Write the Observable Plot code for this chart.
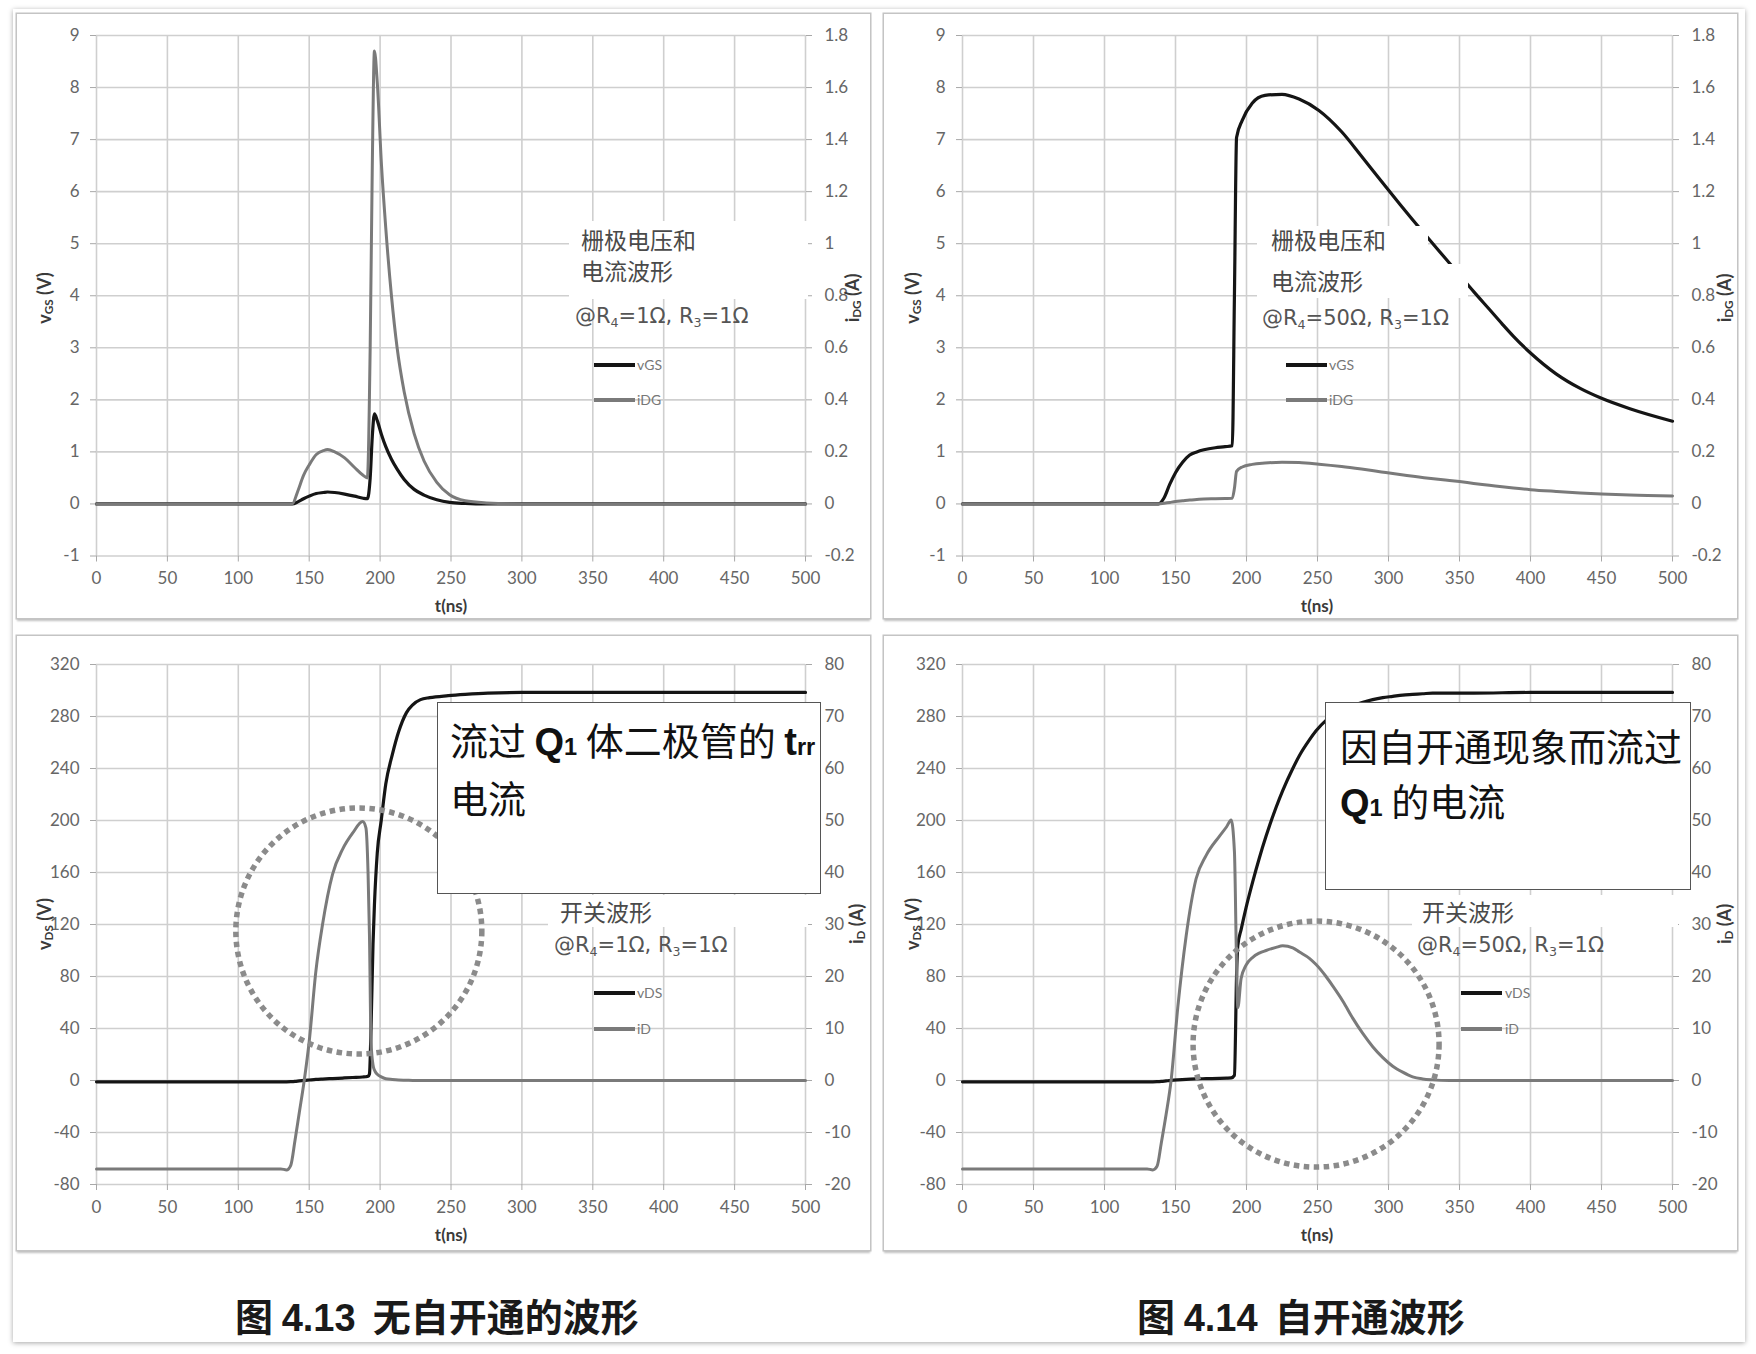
<!DOCTYPE html>
<html><head><meta charset="utf-8">
<script src="https://cdn.jsdelivr.net/npm/d3@7"></script>
<script src="https://cdn.jsdelivr.net/npm/@observablehq/plot@0.6"></script>
<style>
body{margin:0;background:#fff;}
#root{position:relative;width:1756px;height:1354px;overflow:hidden;background:#fff;font-family:Lato,"Noto Sans CJK SC",sans-serif;}
.card{position:absolute;left:13px;top:9px;width:1732px;height:1333px;background:#fff;box-shadow:0 1px 5px rgba(0,0,0,.35);}
.panel{position:absolute;background:#fff;box-shadow:0 0 0 1.5px #c4c4c4,0 3px 2px rgba(0,0,0,.25);}
.panel svg{position:absolute;left:0;top:0;}
.a{position:absolute;white-space:nowrap;line-height:1;}
.ytitle{font-family:Lato,sans-serif;font-weight:bold;font-size:18px;color:#3a3a3a;transform:translate(-50%,-50%) rotate(-90deg);}
.xtitle{font-family:Lato,sans-serif;font-weight:bold;font-size:17px;color:#3a3a3a;transform:translate(-50%,-50%);}
.ytitle sub,.xtitle sub{font-size:.65em;vertical-align:-.2em;}
.cjk{font-family:"Noto Sans CJK SC",sans-serif;font-size:23px;color:#4a4a4a;transform:translateY(-50%);}
.cond{font-family:"DejaVu Sans",sans-serif;font-size:21px;color:#555;transform:translateY(-50%);}
.cond sub{font-size:.6em;vertical-align:-.3em;}
.white{position:absolute;background:#fff;}
.lg{position:absolute;height:4px;}
.lgt{font-family:Lato,sans-serif;font-size:14px;color:#777;transform:translateY(-50%);}
.box{position:absolute;background:#fff;border:1.5px solid #555;box-sizing:border-box;}
.big{font-family:"Noto Sans CJK SC",sans-serif;color:#111;transform:translateY(-50%);}
.big b{font-family:"Liberation Sans",Arial,sans-serif;font-weight:bold;}
.big b small{font-size:.62em;}
.cap{font-family:"Noto Sans CJK SC",sans-serif;font-weight:bold;font-size:38px;color:#1a1a1a;transform:translateY(-50%);}
.cap b{font-family:"Liberation Sans",Arial,sans-serif;}
</style></head>
<body>
<div id="root">
  <div class="card"></div>
  <div class="panel" id="p1" style="left:17px;top:14px;width:853px;height:604px"></div>
  <div class="panel" id="p2" style="left:884px;top:14px;width:853px;height:604px"></div>
  <div class="panel" id="p3" style="left:17px;top:636px;width:853px;height:614px"></div>
  <div class="panel" id="p4" style="left:884px;top:636px;width:853px;height:614px"></div>

  <!-- axis titles -->
  <div class="a ytitle" style="left:45px;top:298px">v<sub>GS</sub> (V)</div>
  <div class="a ytitle" style="left:853px;top:298px">i<sub>DG</sub> (A)</div>
  <div class="a ytitle" style="left:913px;top:298px">v<sub>GS</sub> (V)</div>
  <div class="a ytitle" style="left:1725px;top:298px">i<sub>DG</sub> (A)</div>
  <div class="a ytitle" style="left:45px;top:924px">v<sub>DS</sub> (V)</div>
  <div class="a ytitle" style="left:857px;top:924px">i<sub>D</sub> (A)</div>
  <div class="a ytitle" style="left:913px;top:924px">v<sub>DS</sub> (V)</div>
  <div class="a ytitle" style="left:1725px;top:924px">i<sub>D</sub> (A)</div>
  <div class="a xtitle" style="left:451px;top:605px">t(ns)</div>
  <div class="a xtitle" style="left:1317px;top:605px">t(ns)</div>
  <div class="a xtitle" style="left:451px;top:1234px">t(ns)</div>
  <div class="a xtitle" style="left:1317px;top:1234px">t(ns)</div>

  <!-- top-left annotations -->
  <div class="white" style="left:569px;top:221px;width:239px;height:78px"></div>
  <div class="a cjk" style="left:581px;top:239px">栅极电压和</div>
  <div class="a cjk" style="left:581px;top:270px">电流波形</div>
  <div class="a cond" style="left:575px;top:318px">@R<sub>4</sub>=1Ω, R<sub>3</sub>=1Ω</div>
  <div class="lg" style="left:594px;top:363px;width:41px;background:#151515"></div>
  <div class="a lgt" style="left:637px;top:365px">vGS</div>
  <div class="lg" style="left:594px;top:398px;width:41px;background:#7a7a7a"></div>
  <div class="a lgt" style="left:637px;top:400px">iDG</div>

  <!-- top-right annotations -->
  <div class="white" style="left:1257px;top:226px;width:171px;height:38px"></div>
  <div class="white" style="left:1257px;top:264px;width:211px;height:34px"></div>
  <div class="a cjk" style="left:1271px;top:239px">栅极电压和</div>
  <div class="a cjk" style="left:1271px;top:280px">电流波形</div>
  <div class="a cond" style="left:1262px;top:320px">@R<sub>4</sub>=50Ω, R<sub>3</sub>=1Ω</div>
  <div class="lg" style="left:1286px;top:363px;width:41px;background:#151515"></div>
  <div class="a lgt" style="left:1329px;top:365px">vGS</div>
  <div class="lg" style="left:1286px;top:398px;width:41px;background:#7a7a7a"></div>
  <div class="a lgt" style="left:1329px;top:400px">iDG</div>

  <!-- bottom-left annotations -->
  <div class="box" style="left:437px;top:702px;width:384px;height:192px"></div>
  <div class="a big" style="left:450px;top:740px;font-size:38px">流过 <b>Q<small>1</small></b> 体二极管的 <b>t<small>rr</small></b></div>
  <div class="a big" style="left:450px;top:797px;font-size:38px">电流</div>
  <div class="white" style="left:548px;top:895px;width:260px;height:32px"></div>
  <div class="a cjk" style="left:560px;top:911px">开关波形</div>
  <div class="a cond" style="left:554px;top:947px">@R<sub>4</sub>=1Ω, R<sub>3</sub>=1Ω</div>
  <div class="lg" style="left:594px;top:991px;width:41px;background:#151515"></div>
  <div class="a lgt" style="left:637px;top:993px">vDS</div>
  <div class="lg" style="left:594px;top:1027px;width:41px;background:#7a7a7a"></div>
  <div class="a lgt" style="left:637px;top:1029px">iD</div>

  <!-- bottom-right annotations -->
  <div class="box" style="left:1325px;top:702px;width:366px;height:188px"></div>
  <div class="a big" style="left:1340px;top:745px;font-size:38px">因自开通现象而流过</div>
  <div class="a big" style="left:1340px;top:801px;font-size:38px"><b>Q<small>1</small></b> 的电流</div>
  <div class="white" style="left:1412px;top:895px;width:266px;height:32px"></div>
  <div class="a cjk" style="left:1422px;top:911px">开关波形</div>
  <div class="a cond" style="left:1417px;top:947px">@R<sub>4</sub>=50Ω, R<sub>3</sub>=1Ω</div>
  <div class="lg" style="left:1461px;top:991px;width:41px;background:#151515"></div>
  <div class="a lgt" style="left:1505px;top:993px">vDS</div>
  <div class="lg" style="left:1461px;top:1027px;width:41px;background:#7a7a7a"></div>
  <div class="a lgt" style="left:1505px;top:1029px">iD</div>

  <!-- captions -->
  <div class="a cap" style="left:235px;top:1316px">图 <b>4.13</b>&nbsp; 无自开通的波形</div>
  <div class="a cap" style="left:1137px;top:1316px">图 <b>4.14</b>&nbsp; 自开通波形</div>
</div>
<script>
// ---- tick values ----
const xTicks = [0, 50, 100, 150, 200, 250, 300, 350, 400, 450, 500];
const gateTicks = [-1, 0, 1, 2, 3, 4, 5, 6, 7, 8, 9];
const swTicks = [-80, -40, 0, 40, 80, 120, 160, 200, 240, 280, 320];

// ---- Fig 4.13 gate waveforms (R4=1Ω) ----
const tGate413 = [0, 138, 142, 146, 150, 155, 160, 163, 168, 175, 182, 188, 191, 193, 194.5, 196, 198, 201, 204, 208, 212, 217, 224, 231, 240, 249, 260, 275, 300, 500];
const vGS413  = [0, 0, 0.04, 0.1, 0.15, 0.2, 0.22, 0.23, 0.22, 0.19, 0.15, 0.11, 0.1, 0.5, 1.3, 1.73, 1.6, 1.33, 1.1, 0.86, 0.67, 0.47, 0.28, 0.17, 0.08, 0.03, 0.01, 0, 0, 0];
const iDG413  = [0, 0, 0.05, 0.11, 0.15, 0.19, 0.205, 0.209, 0.2, 0.177, 0.14, 0.11, 0.1, 0.6, 1.3, 1.74, 1.62, 1.3, 1.06, 0.8, 0.6, 0.43, 0.27, 0.165, 0.083, 0.035, 0.012, 0.004, 0, 0];

// ---- Fig 4.14 gate waveforms (R4=50Ω) ----
const tGate414 = [0, 138, 142, 146, 150, 155, 160, 165, 170, 178, 185, 190, 191.5, 193, 197, 204, 213, 225, 237, 251, 267, 281, 295, 308, 325, 340, 350, 360, 371, 380, 388, 400, 418, 435, 450, 470, 500];
const vGS414  = [0, 0, 0.12, 0.38, 0.6, 0.8, 0.94, 1.0, 1.04, 1.08, 1.1, 1.12, 4.0, 7.04, 7.37, 7.7, 7.85, 7.87, 7.78, 7.56, 7.15, 6.68, 6.2, 5.76, 5.2, 4.72, 4.4, 4.08, 3.74, 3.46, 3.22, 2.9, 2.5, 2.22, 2.03, 1.83, 1.59];
const iDG414  = [0, 0, 0.003, 0.006, 0.009, 0.012, 0.015, 0.017, 0.019, 0.02, 0.021, 0.022, 0.06, 0.125, 0.142, 0.152, 0.157, 0.16, 0.159, 0.153, 0.144, 0.134, 0.123, 0.113, 0.101, 0.092, 0.086, 0.079, 0.072, 0.066, 0.061, 0.055, 0.048, 0.042, 0.038, 0.034, 0.031];

// ---- Fig 4.13 switching waveforms ----
const tSw413 = [0, 130, 134, 137, 140, 143, 146.5, 150, 154.7, 159.4, 166.5, 173.6, 180.7, 187.7, 190, 191.5, 192.5, 193.6, 195, 196, 198, 200.8, 204, 208.7, 213, 218.6, 223, 228.5, 235, 248, 260, 276, 300, 500];
const vDS413 = [-1, -1, -1, -0.9, -0.7, -0.3, 0.1, 0.4, 0.8, 1.1, 1.5, 1.9, 2.3, 2.7, 2.9, 3.2, 5, 40, 105, 135, 175, 200, 228, 251, 268, 283, 289, 293, 294.5, 296, 297, 298, 298.5, 298.5];
const iD413  = [-17, -17, -17.2, -16.3, -11.5, -6.2, 0, 7.5, 21, 30, 39.7, 44.5, 47.6, 49.8, 48.6, 40, 28, 7.5, 3, 2, 1.2, 0.7, 0.35, 0.2, 0.1, 0.05, 0, 0, 0, 0, 0, 0, 0, 0];

// ---- Fig 4.14 switching waveforms ----
const tSw414 = [0, 130, 134, 137, 140, 143.4, 146.9, 151.6, 157.5, 164.5, 171.6, 181, 186, 189.2, 191.5, 193.1, 193.9, 196.2, 199.7, 204.4, 209, 213.8, 220.8, 225.5, 232.6, 237.3, 244.3, 249, 256, 260.7, 268, 274.8, 282, 288.9, 296, 303, 310, 317, 324, 331, 343, 360, 400, 500];
const vDS414 = [-1, -1, -1, -0.9, -0.7, -0.3, 0.1, 0.5, 0.9, 1.2, 1.4, 1.6, 1.8, 2, 4, 85, 104, 116, 133, 153, 171, 188, 210, 223, 240, 250, 262, 269, 277, 281, 285.5, 288.5, 291, 293, 294.5, 295.5, 296.5, 297, 297.5, 298, 298, 298, 298.5, 298.5];
const iD414  = [-17, -17, -17.2, -16.5, -12, -6.5, 0, 14, 27.8, 38.8, 43.3, 47, 48.8, 50.1, 44, 21, 14, 19.6, 22.2, 23.7, 24.5, 25, 25.6, 25.9, 25.5, 24.7, 23.5, 22.3, 20, 18.2, 15.2, 12, 9, 6.5, 4.4, 2.75, 1.6, 0.7, 0.3, 0.12, 0, 0, 0, 0];

// ---- dotted highlight circles (center in data units) ----
const trrCircleT = [185], trrCircleV = [115];
const selfOnCircleT = [249], selfOnCircleV = [28];

function chart({t, a, b, ratio, yDomain, yTicks, rightFmt, circleT, circleV, height, mt, mb, ml}) {
  const rows = t.map((tt, i) => ({t: tt, a: a[i], b: b[i]}));
  const marks = [
    Plot.gridX(xTicks, {stroke: "#cfcfcf", strokeOpacity: 1, strokeWidth: 1.6}),
    Plot.gridY(yTicks, {stroke: "#cfcfcf", strokeOpacity: 1, strokeWidth: 1.6}),
    Plot.axisX(xTicks, {tickSize: 6, tickPadding: 10, tickFormat: d => String(d), label: null, stroke: "#a8a8a8", fill: "#666"}),
    Plot.axisY(yTicks, {anchor: "left", tickSize: 6, tickPadding: 11, tickFormat: d => String(d), label: null, stroke: "#a8a8a8", fill: "#666"}),
    Plot.axisY(yTicks, {anchor: "right", tickSize: 6, tickPadding: 13, tickFormat: rightFmt, label: null, stroke: "#a8a8a8", fill: "#666"}),
    Plot.line(rows, {x: "t", y: "a", stroke: "#151515", strokeWidth: 3.2, curve: "monotone-x"}),
    Plot.line(rows, {x: "t", y: d => d.b * ratio, stroke: "#7a7a7a", strokeWidth: 3, curve: "monotone-x"})
  ];
  if (circleT) {
    const c = circleT.map((ct, i) => ({t: ct, v: circleV[i]}));
    marks.push(Plot.dot(c, {x: "t", y: "v", r: 123, fill: "none", stroke: "#8b8b8b", strokeWidth: 5.5, strokeDasharray: "5.5 4.5"}));
  }
  return Plot.plot({
    width: 853, height, marginTop: mt, marginBottom: mb, marginLeft: ml, marginRight: 65,
    x: {domain: [0, 500], label: null},
    y: {domain: yDomain, label: null},
    style: {fontFamily: "Lato, sans-serif", fontSize: "17px", background: "none", overflow: "visible"},
    marks
  });
}

const gateFmt = d => String(Math.round(d / 5 * 10) / 10);
const swFmt = d => String(d / 4);

document.getElementById("p1").append(chart({t: tGate413, a: vGS413, b: iDG413, ratio: 5, yDomain: [-1, 9], yTicks: gateTicks, rightFmt: gateFmt, height: 604, mt: 21, mb: 62.5, ml: 79}));
document.getElementById("p2").append(chart({t: tGate414, a: vGS414, b: iDG414, ratio: 5, yDomain: [-1, 9], yTicks: gateTicks, rightFmt: gateFmt, height: 604, mt: 21, mb: 62.5, ml: 78}));
document.getElementById("p3").append(chart({t: tSw413, a: vDS413, b: iD413, ratio: 4, yDomain: [-80, 320], yTicks: swTicks, rightFmt: swFmt, circleT: trrCircleT, circleV: trrCircleV, height: 614, mt: 28, mb: 66, ml: 79}));
document.getElementById("p4").append(chart({t: tSw414, a: vDS414, b: iD414, ratio: 4, yDomain: [-80, 320], yTicks: swTicks, rightFmt: swFmt, circleT: selfOnCircleT, circleV: selfOnCircleV, height: 614, mt: 28, mb: 66, ml: 78}));
</script>
</body></html>
